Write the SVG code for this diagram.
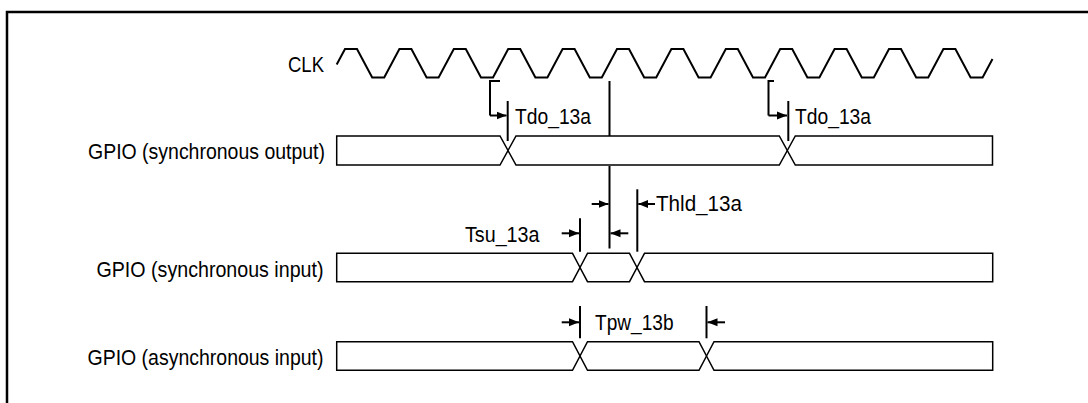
<svg xmlns="http://www.w3.org/2000/svg" width="1088" height="403" viewBox="0 0 1088 403">
<style>
.lbl{font-family:"Liberation Sans",Arial,sans-serif;font-size:22px;fill:#000}
.bus{fill:#fff;stroke:#000;stroke-width:1.5;stroke-linejoin:miter}
.ln{fill:none;stroke:#000;stroke-width:2}
.ar{fill:none;stroke:#000;stroke-width:2;marker-end:url(#ah)}
</style>
<defs>
<marker id="ah" markerUnits="userSpaceOnUse" markerWidth="10" markerHeight="10" viewBox="0 0 10 10" refX="10" refY="5" orient="auto">
<path d="M0,1 L10,5 L0,9 Z" fill="#000"/>
</marker>
</defs>
<rect width="1088" height="403" fill="#fff"/>
<path d="M7,404 V12 H1090" fill="none" stroke="#000" stroke-width="2.5"/>

<g id="clk">
<text class="lbl" x="324" y="71.5" text-anchor="end" textLength="36" lengthAdjust="spacingAndGlyphs">CLK</text>
<path class="ln" stroke-width="1.6" d="M336.7,64.5 L345,49 H357 L372.2,77.5 H384.2 L399.4,49 H411.4 L426.6,77.5 H438.6 L453.8,49 H465.8 L481,77.5 H493 L508.2,49 H520.2 L535.4,77.5 H547.4 L562.6,49 H574.6 L589.8,77.5 H601.8 L617,49 H629 L644.2,77.5 H656.2 L671.4,49 H683.4 L698.6,77.5 H710.6 L725.8,49 H737.8 L753,77.5 H765 L780.2,49 H792.2 L807.4,77.5 H819.4 L834.6,49 H846.6 L861.8,77.5 H873.8 L889,49 H901 L916.2,77.5 H928.2 L943.4,49 H955.4 L970.6,77.5 H982.6 L992.5,59"/>
</g>

<g id="gpio_sync_out">
<text class="lbl" x="325" y="158.5" text-anchor="end" textLength="237" lengthAdjust="spacingAndGlyphs">GPIO (synchronous output)</text>
<path class="bus" d="M336.7,136 H500 L508,150.5 L500,165 H336.7 Z"/>
<path class="bus" d="M508,150.5 L516,136 H779.3 L787.3,150.5 L779.3,165 H516 Z"/>
<path class="bus" d="M787.3,150.5 L795.3,136 H992.5 V165 H795.3 Z"/>
</g>

<g id="gpio_sync_in">
<text class="lbl" x="323.5" y="276.5" text-anchor="end" textLength="227" lengthAdjust="spacingAndGlyphs">GPIO (synchronous input)</text>
<path class="bus" d="M336.7,253.3 H572.5 L580,267.5 L572.5,281.7 H336.7 Z"/>
<path class="bus" d="M580,267.5 L587.5,253.3 H629.5 L637,267.5 L629.5,281.7 H587.5 Z"/>
<path class="bus" d="M637,267.5 L644.5,253.3 H992.7 V281.7 H644.5 Z"/>
</g>

<g id="gpio_async_in">
<text class="lbl" x="323.5" y="365" text-anchor="end" textLength="236" lengthAdjust="spacingAndGlyphs">GPIO (asynchronous input)</text>
<path class="bus" d="M336.7,341.7 H572.5 L580,356 L572.5,370.3 H336.7 Z"/>
<path class="bus" d="M580,356 L587.5,341.7 H699 L706.5,356 L699,370.3 H587.5 Z"/>
<path class="bus" d="M706.5,356 L714,341.7 H992.7 V370.3 H714 Z"/>
</g>

<g id="timing_labels">
<text class="lbl" x="515" y="123.5" textLength="76" lengthAdjust="spacingAndGlyphs">Tdo_13a</text>
<text class="lbl" x="795" y="123.5" textLength="76" lengthAdjust="spacingAndGlyphs">Tdo_13a</text>
<text class="lbl" x="656" y="211" textLength="86" lengthAdjust="spacingAndGlyphs">Thld_13a</text>
<text class="lbl" x="465" y="241.5" textLength="74.5" lengthAdjust="spacingAndGlyphs">Tsu_13a</text>
<text class="lbl" x="595" y="330" textLength="78.5" lengthAdjust="spacingAndGlyphs">Tpw_13b</text>
</g>

<g id="connectors">
<path class="ln" d="M500,81 H490 V115.5"/>
<path class="ar" d="M490,115.5 H506.5"/>
<path class="ln" d="M507.7,101 V141"/>
<path class="ln" d="M774,81 H768.5 V115.5"/>
<path class="ar" d="M768.5,115.5 H787"/>
<path class="ln" d="M788.3,101 V141"/>
<path class="ln" d="M609.5,81 V136"/>
<path class="ln" d="M609.5,166 V248.5"/>
<path class="ar" d="M591.7,204 H608.5"/>
<path class="ar" d="M628.3,233.3 H610.5"/>
<path class="ln" d="M637.3,189.3 V251.7"/>
<path class="ar" d="M655,204 H638.3"/>
<path class="ln" d="M580,218.3 V251.7"/>
<path class="ar" d="M561.7,233.3 H579"/>
<path class="ln" d="M580,306 V338.3"/>
<path class="ar" d="M561.7,322.3 H579"/>
<path class="ln" d="M706.5,306 V338.3"/>
<path class="ar" d="M725,322.3 H707.5"/>
</g>
</svg>
